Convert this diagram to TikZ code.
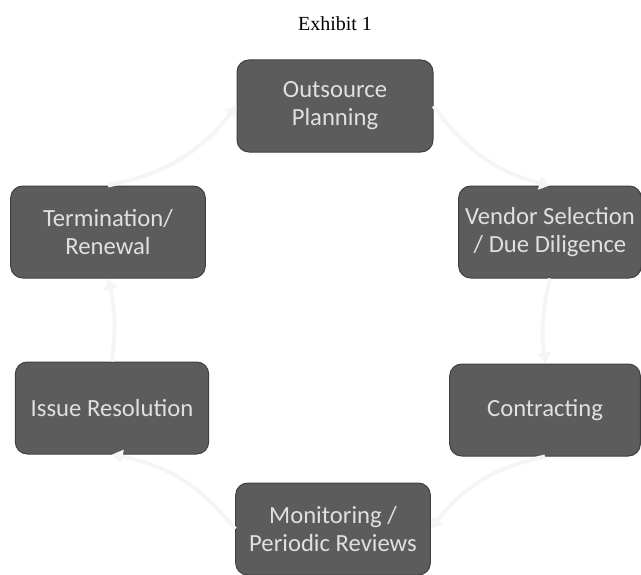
\documentclass[tikz,border=0pt]{standalone}
\usepackage{fontspec}
\setmainfont{Carlito}
\newfontfamily\titlefont{Liberation Serif}
\usetikzlibrary{arrows.meta}

\tikzset{every picture/.style={line width=0.75pt}}
\tikzset{
	phase/.style={draw=black!75, fill=black!64, rounded corners=9pt, minimum width=147pt, minimum height=69pt, text=black!12, align=center, font=\fontsize{18.5}{21}\selectfont, inner sep=0.75pt},
	faint/.style={draw=black!4, line width=3pt, -{Triangle[length=8pt,width=10pt]}}
}

\begin{document}
\begin{tikzpicture}[x=0.75pt,y=0.75pt,yscale=-1,xscale=1]
		\useasboundingbox (0,0) rectangle (641,574);
		
		%Title
		\node (title) at (335,24) {\titlefont\fontsize{15}{18}\selectfont Exhibit 1};
		
		%Phases of the cycle
		\node[phase] (plan) at (335,106) {Outsource\\Planning};
		\node[phase, minimum width=137pt] (vendor) at (550,232) {Vendor Selection\\/ Due Diligence};
		\node[phase, minimum width=143pt] (contract) at (545,410) {Contracting};
		\node[phase, minimum width=146pt] (monitor) at (333,529) {Monitoring /\\Periodic Reviews};
		\node[phase, minimum width=145pt] (issue) at (112,408) {Issue Resolution};
		\node[phase, minimum width=146pt] (term) at (108,232) {Termination/\\Renewal};
		
		%Faint arrows round the cycle
		\draw[faint] (plan.east) to[bend left=20] (vendor.north);
		\draw[faint] (vendor.south) to[bend left=10] (contract.north);
		\draw[faint] (contract.south) to[bend left=20] (monitor.east);
		\draw[faint] (monitor.west) to[bend left=20] (issue.south);
		\draw[faint] (issue.north) to[bend left=10] (term.south);
		\draw[faint] (term.north) to[bend left=20] (plan.west);
		
	\end{tikzpicture}
\end{document}
